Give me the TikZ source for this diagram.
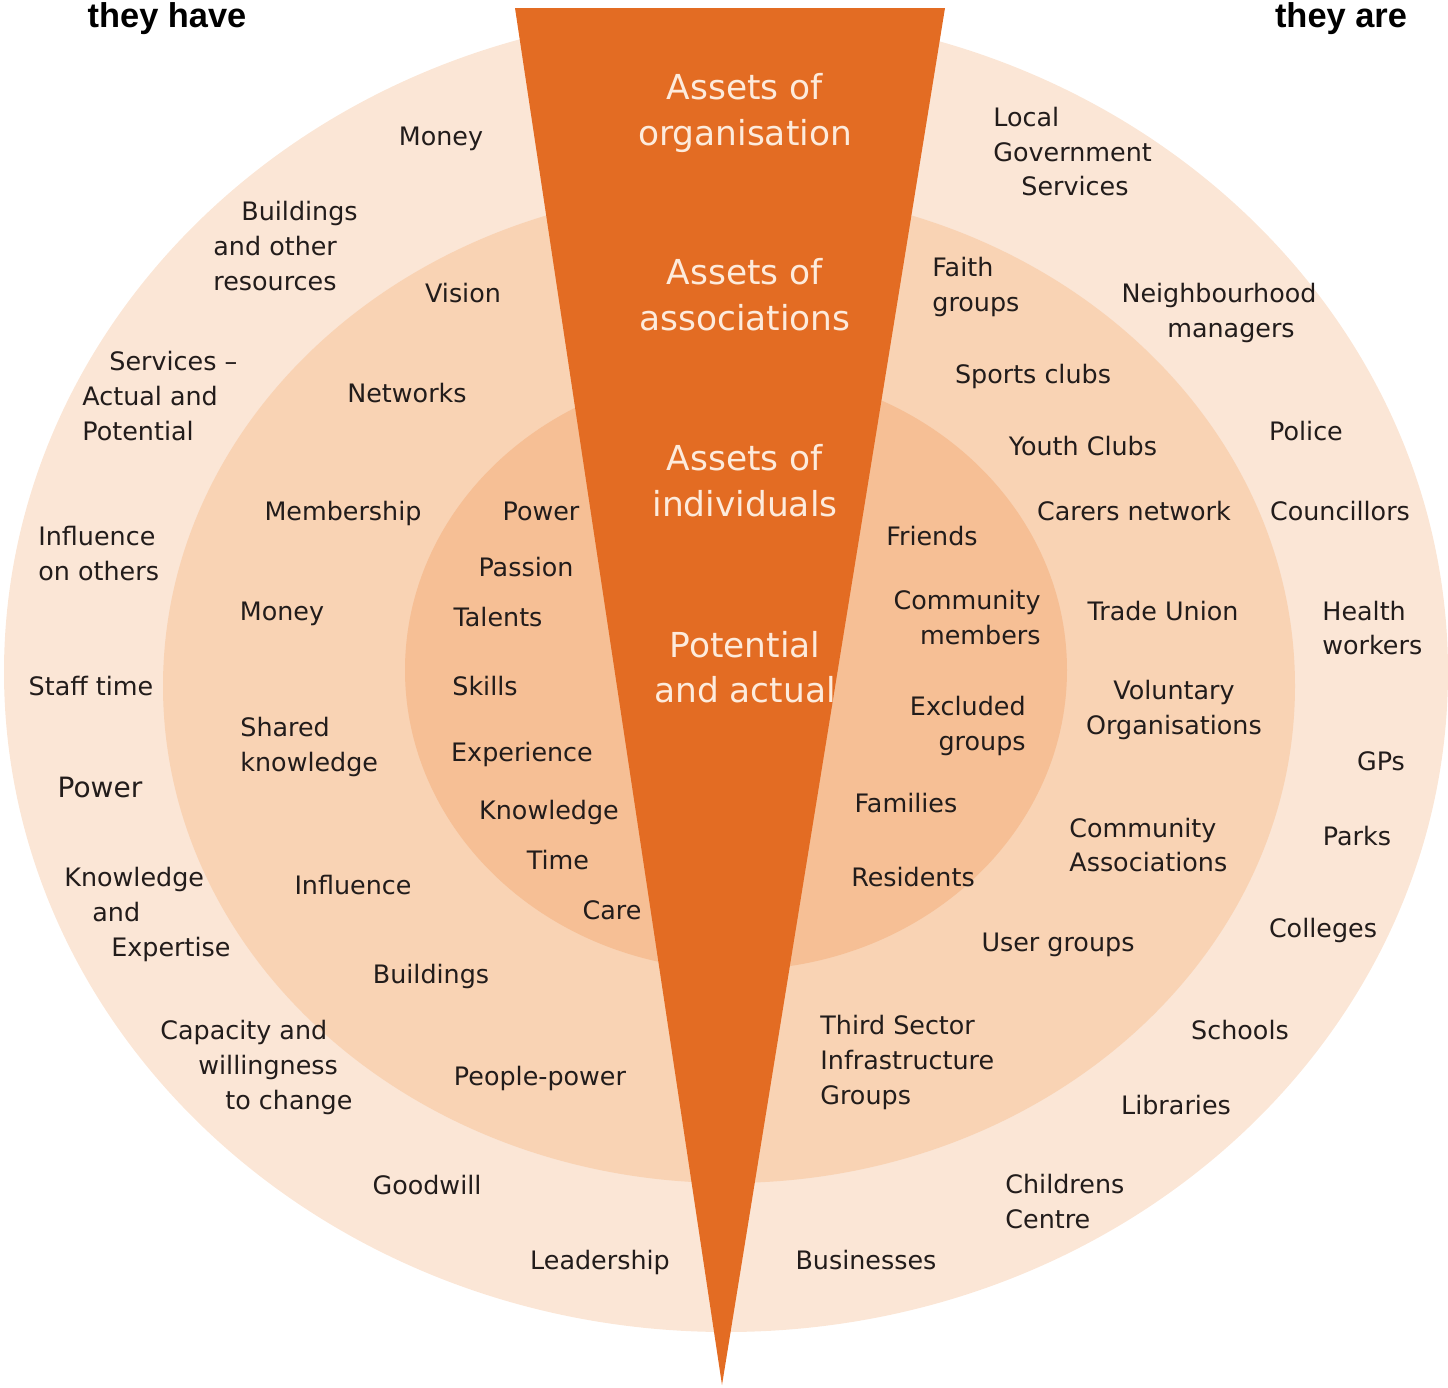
\documentclass[tikz,border=0pt]{standalone}
\usepackage{fontspec}
\setmainfont{DejaVu Sans}
\newfontfamily\titlefont{Liberation Sans}
\definecolor{outerc}{HTML}{FBE6D6}
\definecolor{midc}{HTML}{F9D3B4}
\definecolor{innerc}{HTML}{F6BF95}
\definecolor{tric}{HTML}{E36C23}
\definecolor{tritxt}{HTML}{FDEBDC}
\definecolor{txt}{HTML}{221C1B}
\tikzset{
  lbl/.style={font=\fontsize{12.7}{15}\selectfont, text=txt, inner sep=0pt},
  bigl/.style={font=\fontsize{14}{16}\selectfont, text=txt, inner sep=0pt},
  tlbl/.style={font=\fontsize{17.2}{21}\selectfont, text=tritxt, inner sep=0pt, anchor=base},
  ttl/.style={font=\titlefont\bfseries\fontsize{17.2}{20}\selectfont, text=black, inner sep=0pt, anchor=base}
}
\begin{document}
\begin{tikzpicture}[x=0.5pt,y=-0.5pt]
\useasboundingbox (0,0) rectangle (1448,1388);
% rings
\fill[outerc] (726,672) ellipse [x radius=722, y radius=660];
\fill[midc] (729,686) ellipse [x radius=566, y radius=497];
\fill[innerc] (736,670) ellipse [x radius=331, y radius=300];
% wedge
\fill[tric] (515,8) -- (945,8) -- (722,1385) -- cycle;
% titles
\node[ttl] (thave) at (167,27) {they have};
\node[ttl] (tare) at (1341,27) {they are};
% wedge text
\node[tlbl] (w1a) at (745,99) {Assets of};
\node[tlbl] (w1b) at (745,145) {organisation};
\node[tlbl] (w2a) at (745,284) {Assets of};
\node[tlbl] (w2b) at (745,330) {associations};
\node[tlbl] (w3a) at (745,470) {Assets of};
\node[tlbl] (w3b) at (745,516) {individuals};
\node[tlbl] (w4a) at (745,657) {Potential};
\node[tlbl] (w4b) at (745,702) {and actual};
% outer left
\node[lbl,anchor=base] (ol1) at (441,145) {Money};
\node[lbl,anchor=base west] (ol2a) at (241,220) {Buildings};
\node[lbl,anchor=base west] (ol2b) at (213,255) {and other};
\node[lbl,anchor=base west] (ol2c) at (213,290) {resources};
\node[lbl,anchor=base west] (ol3a) at (109,370) {Services –};
\node[lbl,anchor=base west] (ol3b) at (82,405) {Actual and};
\node[lbl,anchor=base west] (ol3c) at (82,440) {Potential};
\node[lbl,anchor=base west] (ol4a) at (38,545) {Influence};
\node[lbl,anchor=base west] (ol4b) at (38,580) {on others};
\node[lbl,anchor=base] (ol5) at (91,695) {Staff time};
\node[bigl,anchor=base] (ol6) at (100,797) {Power};
\node[lbl,anchor=base west] (ol7a) at (64,886) {Knowledge};
\node[lbl,anchor=base west] (ol7b) at (92,921) {and};
\node[lbl,anchor=base west] (ol7c) at (111,956) {Expertise};
\node[lbl,anchor=base west] (ol8a) at (160,1039) {Capacity and};
\node[lbl,anchor=base west] (ol8b) at (198,1074) {willingness};
\node[lbl,anchor=base west] (ol8c) at (225,1109) {to change};
\node[lbl,anchor=base] (ol9) at (427,1194) {Goodwill};
\node[lbl,anchor=base] (ol10) at (600,1269) {Leadership};
% middle left
\node[lbl,anchor=base] (ml1) at (463,302) {Vision};
\node[lbl,anchor=base] (ml2) at (407,402) {Networks};
\node[lbl,anchor=base] (ml3) at (343,520) {Membership};
\node[lbl,anchor=base] (ml4) at (282,620) {Money};
\node[lbl,anchor=base west] (ml5a) at (240,736) {Shared};
\node[lbl,anchor=base west] (ml5b) at (240,771) {knowledge};
\node[lbl,anchor=base] (ml6) at (353,894) {Influence};
\node[lbl,anchor=base] (ml7) at (431,983) {Buildings};
\node[lbl,anchor=base] (ml8) at (540,1085) {People-power};
% inner left
\node[lbl,anchor=base] (il1) at (541,520) {Power};
\node[lbl,anchor=base] (il2) at (526,576) {Passion};
\node[lbl,anchor=base] (il3) at (498,626) {Talents};
\node[lbl,anchor=base] (il4) at (485,695) {Skills};
\node[lbl,anchor=base] (il5) at (522,761) {Experience};
\node[lbl,anchor=base] (il6) at (549,819) {Knowledge};
\node[lbl,anchor=base] (il7) at (558,869) {Time};
\node[lbl,anchor=base] (il8) at (612,919) {Care};
% inner right
\node[lbl,anchor=base] (ir1) at (932,545) {Friends};
\node[lbl,anchor=base east] (ir2a) at (1041,609) {Community};
\node[lbl,anchor=base east] (ir2b) at (1041,644) {members};
\node[lbl,anchor=base east] (ir3a) at (1026,715) {Excluded};
\node[lbl,anchor=base east] (ir3b) at (1026,750) {groups};
\node[lbl,anchor=base] (ir4) at (906,812) {Families};
\node[lbl,anchor=base] (ir5) at (913,886) {Residents};
% middle right
\node[lbl,anchor=base west] (mr1a) at (932,276) {Faith};
\node[lbl,anchor=base west] (mr1b) at (932,311) {groups};
\node[lbl,anchor=base] (mr2) at (1033,383) {Sports clubs};
\node[lbl,anchor=base] (mr3) at (1083,455) {Youth Clubs};
\node[lbl,anchor=base] (mr4) at (1134,520) {Carers network};
\node[lbl,anchor=base] (mr5) at (1163,620) {Trade Union};
\node[lbl,anchor=base] (mr6a) at (1174,699) {Voluntary};
\node[lbl,anchor=base] (mr6b) at (1174,734) {Organisations};
\node[lbl,anchor=base west] (mr7a) at (1069,837) {Community};
\node[lbl,anchor=base west] (mr7b) at (1069,871) {Associations};
\node[lbl,anchor=base] (mr8) at (1058,951) {User groups};
\node[lbl,anchor=base west] (mr9a) at (820,1034) {Third Sector};
\node[lbl,anchor=base west] (mr9b) at (820,1069) {Infrastructure};
\node[lbl,anchor=base west] (mr9c) at (820,1104) {Groups};
% outer right
\node[lbl,anchor=base west] (or1a) at (993,126) {Local};
\node[lbl,anchor=base west] (or1b) at (993,161) {Government};
\node[lbl,anchor=base west] (or1c) at (1021,195) {Services};
\node[lbl,anchor=base] (or2a) at (1219,302) {Neighbourhood};
\node[lbl,anchor=base] (or2b) at (1231,337) {managers};
\node[lbl,anchor=base] (or3) at (1306,440) {Police};
\node[lbl,anchor=base] (or4) at (1340,520) {Councillors};
\node[lbl,anchor=base west] (or5a) at (1322,620) {Health};
\node[lbl,anchor=base west] (or5b) at (1322,654) {workers};
\node[lbl,anchor=base] (or6) at (1381,770) {GPs};
\node[lbl,anchor=base] (or7) at (1357,845) {Parks};
\node[lbl,anchor=base] (or8) at (1323,937) {Colleges};
\node[lbl,anchor=base] (or9) at (1240,1039) {Schools};
\node[lbl,anchor=base] (or10) at (1176,1114) {Libraries};
\node[lbl,anchor=base west] (or11a) at (1005,1193) {Childrens};
\node[lbl,anchor=base west] (or11b) at (1005,1228) {Centre};
\node[lbl,anchor=base] (or12) at (866,1269) {Businesses};
\end{tikzpicture}
\end{document}
